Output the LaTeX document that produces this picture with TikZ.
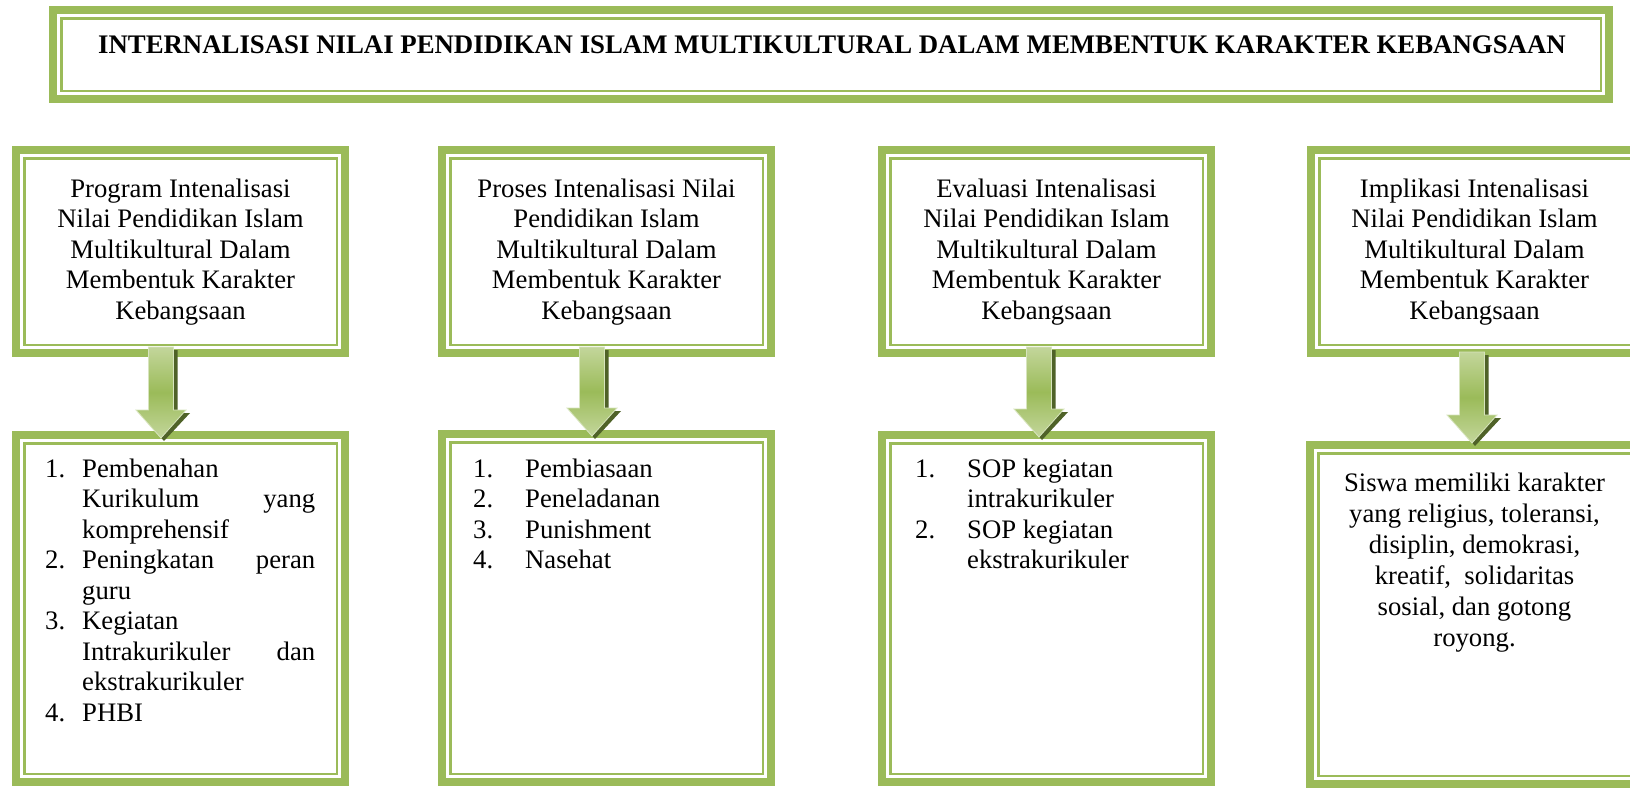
\documentclass[tikz,border=0pt]{standalone}
\usepackage{fontspec}
\setmainfont{Liberation Serif}
\usetikzlibrary{calc}
\definecolor{olive}{HTML}{9BBB59}
\definecolor{olivedark}{HTML}{4F6228}
\definecolor{olivelight}{HTML}{C3D69B}
\definecolor{olivepale}{HTML}{D7E4BD}
\tikzset{
  gframe/.style={draw=olive, line width=8pt, inner sep=0pt, outer sep=0pt, rectangle},
  gthin/.style={draw=olive, line width=2.5pt},
  bodytext/.style={font=\fontsize{26.7}{30.5}\selectfont, inner sep=0pt},
  titletext/.style={font=\fontsize{26.8}{30.5}\selectfont\bfseries, inner sep=0pt},
  ashadow/.style={fill=olivedark},
  abody/.style={top color=olivelight, bottom color=olivelight, middle color=olive, draw=olivepale, line width=0.8pt},
}
\newcommand\gbox[5]{%
  \node[gframe, minimum width=#4, minimum height=#5] (#1) at (#2,#3) {};
  \draw[gthin] ([shift={(8.25,8.25)}]#1.north west) rectangle ([shift={(-8.25,-8.25)}]#1.south east);}
% name, cx, top, head, tip
\newcommand\garrow[5]{%
  \coordinate (#1) at (#2,#3);
  \fill[ashadow] ($(#1)+(-8.5,3)$) -- ($(#1)+(16.5,3)$) -- ($(#1)+(16.5,#4-#3+3)$) -- ($(#1)+(29,#4-#3+3)$) -- ($(#1)+(3,#5-#3+3)$) -- ($(#1)+(-21,#4-#3+3)$) -- ($(#1)+(-8.5,#4-#3+3)$) -- cycle;
  \shade[abody] ($(#1)+(-12.5,0)$) -- ($(#1)+(12.5,0)$) -- ($(#1)+(12.5,#4-#3)$) -- ($(#1)+(25,#4-#3)$) -- ($(#1)+(0,#5-#3)$) -- ($(#1)+(-25,#4-#3)$) -- ($(#1)+(-12.5,#4-#3)$) -- cycle;}
\newcommand\ctext[1]{\begin{tabular}[t]{@{}c@{}}#1\end{tabular}}
\begin{document}
\begin{tikzpicture}[x=1pt,y=-1pt]
\useasboundingbox (0,0) rectangle (1630,790);
\clip (0,0) rectangle (1630,790);
\fill[white] (0,0) rectangle (1630,790);

% title
\gbox{title}{831}{54.5}{1556}{89}
\node[titletext, anchor=base] (titlet) at (832,53) {INTERNALISASI NILAI PENDIDIKAN ISLAM MULTIKULTURAL DALAM MEMBENTUK KARAKTER KEBANGSAAN};

% top boxes
\gbox{t1}{180.5}{251.5}{329}{203}
\gbox{t2}{606.5}{251.5}{329}{203}
\gbox{t3}{1046.5}{251.5}{329}{203}
\gbox{t4}{1475.5}{251.5}{329}{203}

% bottom boxes
\gbox{b1}{180.5}{608.5}{329}{347}
\gbox{b2}{606.5}{608}{329}{348}
\gbox{b3}{1046.5}{608.5}{329}{347}
\gbox{b4}{1474.5}{614.5}{329}{339}

% arrows
\garrow{a1}{161}{347}{410}{438}
\garrow{a2}{592}{347}{408}{436}
\garrow{a3}{1039}{347}{409}{437}
\garrow{a4}{1472}{352}{415}{443}

% top texts
\node[bodytext, anchor=base] (t1t) at (180.5,197) {\ctext{Program Intenalisasi\\Nilai Pendidikan Islam\\Multikultural Dalam\\Membentuk Karakter\\Kebangsaan}};
\node[bodytext, anchor=base] (t2t) at (606.5,197) {\ctext{Proses Intenalisasi Nilai\\Pendidikan Islam\\Multikultural Dalam\\Membentuk Karakter\\Kebangsaan}};
\node[bodytext, anchor=base] (t3t) at (1046.5,197) {\ctext{Evaluasi Intenalisasi\\Nilai Pendidikan Islam\\Multikultural Dalam\\Membentuk Karakter\\Kebangsaan}};
\node[bodytext, anchor=base] (t4t) at (1474.5,197) {\ctext{Implikasi Intenalisasi\\Nilai Pendidikan Islam\\Multikultural Dalam\\Membentuk Karakter\\Kebangsaan}};

% lists
\node[bodytext, anchor=base west] (b1t) at (45,477) {\begin{tabular}[t]{@{}p{37pt}@{}l@{}}
1.&Pembenahan\\
&\makebox[233pt][s]{Kurikulum yang}\\
&komprehensif\\
2.&\makebox[233pt][s]{Peningkatan peran}\\
&guru\\
3.&Kegiatan\\
&\makebox[233pt][s]{Intrakurikuler dan}\\
&ekstrakurikuler\\
4.&PHBI
\end{tabular}};
\node[bodytext, anchor=base west] (b2t) at (473,477) {\begin{tabular}[t]{@{}p{52pt}@{}l@{}}
1.&Pembiasaan\\
2.&Peneladanan\\
3.&Punishment\\
4.&Nasehat
\end{tabular}};
\node[bodytext, anchor=base west] (b3t) at (915,477) {\begin{tabular}[t]{@{}p{52pt}@{}l@{}}
1.&SOP kegiatan\\
&intrakurikuler\\
2.&SOP kegiatan\\
&ekstrakurikuler
\end{tabular}};
\node[bodytext, anchor=base, font=\fontsize{26.7}{31}\selectfont] (b4t) at (1474.5,491) {\ctext{Siswa memiliki karakter\\yang religius, toleransi,\\disiplin, demokrasi,\\kreatif,\ \ solidaritas\\sosial, dan gotong\\royong.}};
\end{tikzpicture}
\end{document}
